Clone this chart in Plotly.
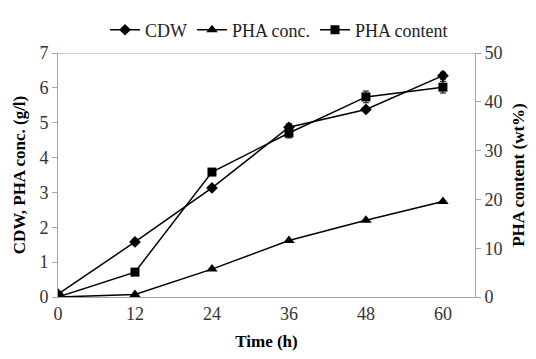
import plotly.graph_objects as go

time_h = [0, 12, 24, 36, 48, 60]
cdw = [0.08, 1.58, 3.13, 4.87, 5.38, 6.35]
cdw_err = [0.03, 0.08, 0.05, 0.10, 0.05, 0.10]
pha_conc = [0.0, 0.07, 0.80, 1.62, 2.20, 2.74]
pha_content = [0.0, 5.1, 25.6, 33.6, 41.0, 43.0]
pha_content_err = [0.3, 0.4, 0.4, 1.0, 1.2, 1.2]

x_ticks = [0, 12, 24, 36, 48, 60]

font_family = "Liberation Serif"
axis_gray = "#a6a6a6"

fig = go.Figure()
fig.add_trace(go.Scatter(
    x=time_h, y=cdw, name="CDW", mode="lines+markers",
    line=dict(color="black", width=1.5),
    marker=dict(symbol="diamond", size=9, color="black"),
    error_y=dict(type="data", array=cdw_err, color="black", thickness=1, width=3),
))
fig.add_trace(go.Scatter(
    x=time_h, y=pha_conc, name="PHA conc.", mode="lines+markers",
    line=dict(color="black", width=1.5),
    marker=dict(symbol="triangle-up", size=10, color="black"),
))
fig.add_trace(go.Scatter(
    x=time_h, y=pha_content, name="PHA content", mode="lines+markers",
    yaxis="y2",
    line=dict(color="black", width=1.5),
    marker=dict(symbol="square", size=9, color="black"),
    error_y=dict(type="data", array=pha_content_err, color="black", thickness=1, width=3),
))

fig.add_shape(type="line", xref="paper", yref="y", x0=0, x1=1, y0=7, y1=7,
              line=dict(color="#7da1d2", width=1.2), layer="below")

fig.update_layout(
    width=536, height=359,
    margin=dict(l=58, r=57, t=44, b=59),
    paper_bgcolor="white", plot_bgcolor="white",
    font=dict(family=font_family, size=18, color="#333"),
    showlegend=True,
    legend=dict(orientation="h", x=0.53, xanchor="center", y=1.094, yanchor="middle",
                font=dict(family=font_family, size=18, color="#222"), itemwidth=30, tracegroupgap=0,
                bgcolor="rgba(0,0,0,0)"),
    xaxis=dict(
        range=[0, 65], tickmode="array", tickvals=x_ticks,
        ticktext=[str(v) for v in x_ticks],
        showgrid=False, zeroline=False, showline=True, linecolor=axis_gray, linewidth=1,
        ticks="", tickfont=dict(family=font_family, size=18),
        title=dict(text="<b>Time (h)</b>", font=dict(family=font_family, size=17, color="black"), standoff=12),
    ),
    yaxis=dict(
        range=[0, 7], dtick=1, showgrid=False, zeroline=False,
        showline=True, linecolor=axis_gray, linewidth=1,
        ticks="outside", ticklen=5, tickcolor=axis_gray, tickfont=dict(family=font_family, size=18),
        title=dict(text="<b>CDW, PHA conc. (g/l)</b>", font=dict(family=font_family, size=17, color="black"), standoff=9),
    ),
    yaxis2=dict(
        range=[0, 50], dtick=10, overlaying="y", side="right", showgrid=False, zeroline=False,
        showline=True, linecolor=axis_gray, linewidth=1,
        ticks="outside", ticklen=5, tickcolor=axis_gray, tickfont=dict(family=font_family, size=18),
        title=dict(text="<b>PHA content (wt%)</b>", font=dict(family=font_family, size=17, color="black"), standoff=10),
    ),
)

fig.write_html("out.html")
